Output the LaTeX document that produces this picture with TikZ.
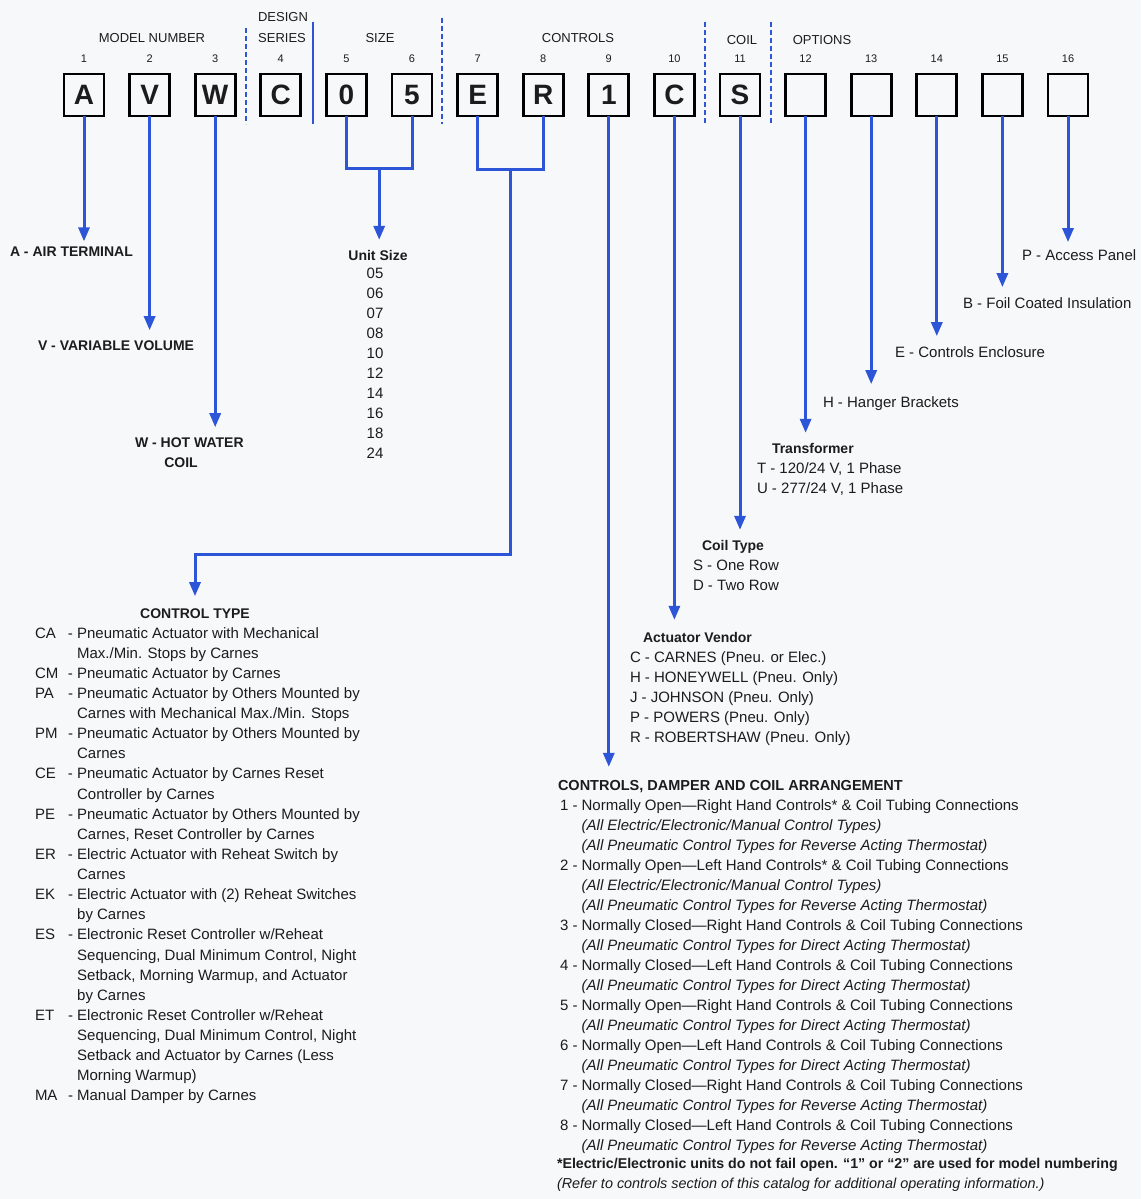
\documentclass[tikz,border=0pt]{standalone}
\usepackage{fontspec}
\setmainfont{Liberation Sans}
\usetikzlibrary{arrows.meta,calc}
\definecolor{lineblue}{RGB}{45,85,215}
\definecolor{ink}{RGB}{28,28,30}
\definecolor{paper}{RGB}{247,248,250}
\newcommand\rfnt{\fontsize{15}{20}\selectfont}
\newcommand\bfnt{\fontsize{14}{16}\selectfont\bfseries}
\begin{document}
\begin{tikzpicture}[x=1pt,y=-1pt,
  every node/.style={inner sep=0pt, outer sep=0pt, text=ink},
  codebox/.style={draw=black, line width=2.8pt, minimum width=40pt, minimum height=42pt,
    font=\fontsize{28}{30}\selectfont\bfseries},
  hdr/.style={font=\fontsize{13}{14}\selectfont, anchor=base},
  num/.style={font=\fontsize{11}{12}\selectfont, anchor=base},
  bhead/.style={font=\bfnt, anchor=base west},
  rlbl/.style={font=\rfnt, anchor=base west},
  conn/.style={draw=lineblue, line width=3pt},
  arr/.style={conn, -{Triangle[width=11pt,length=14pt]}, shorten >=10pt},
  divider/.style={draw=lineblue, line width=2.5pt, dash pattern=on 5pt off 3pt},
  solidsep/.style={draw=lineblue, line width=2.5pt},
  ]
\fill[paper] (0,0) rectangle (1141,1199);
\useasboundingbox (0,0) rectangle (1141,1199);

% code boxes and position numbers
\foreach \i/\ch in {1/A,2/V,3/W,4/C,5/0,6/5,7/E,8/R,9/1,10/C,11/S} {
  \node[codebox] (b\i) at ({84+65.6*(\i-1)},95) {\ch};
}
\foreach \i in {12,...,16} {
  \node[codebox] (b\i) at ({84+65.6*(\i-1)},95) {};
}
\foreach \i in {1,...,16} {
  \node[num] (n\i) at ({84+65.6*(\i-1)},63) {\i};
}

% group headings
\node[hdr] (hModel) at (152,43) {MODEL NUMBER};
\node[hdr] (hDesign) at (283,22) {DESIGN};
\node[hdr] (hSeries) at (282,43) {SERIES};
\node[hdr] (hSize) at (380,43) {SIZE};
\node[hdr] (hControls) at (578,43) {CONTROLS};
\node[hdr] (hCoil) at (742,45) {COIL};
\node[hdr] (hOptions) at (822,45) {OPTIONS};

% group dividers
\draw[divider] (246,28) -- (246,124);
\draw[solidsep] (313,22) -- (313,124);
\draw[divider] (442,18) -- (442,124);
\draw[divider] (705,22) -- (705,124);
\draw[divider] (771,22) -- (771,124);

% labels: model number
\node[bhead] (lA) at (10,256) {A - AIR TERMINAL};
\node[bhead] (lV) at (38,350) {V - VARIABLE VOLUME};
\node[bhead] (lW) at (135,447) {W - HOT WATER};
\node[bhead, anchor=base] (lW2) at (181,467) {COIL};
\draw[arr, shorten >=5pt] (b1.south) -- (b1.south |- lA.north);
\draw[arr] (b2.south) -- (b2.south |- lV.north);
\draw[arr] (b3.south) -- (b3.south |- lW.north);

% size
\draw[conn] (b5.south) -- ++(0,52) -| (b6.south);
\coordinate (m56) at ($(b5.south)!0.5!(b6.south)+(0,52)$);
\node[bhead, anchor=base] (lUnit) at (378,260) {Unit Size};
\node[font=\rfnt, anchor=base] (lSizes) at (375,278)
  {\begin{tabular}[t]{@{}c@{}}05\\06\\07\\08\\10\\12\\14\\16\\18\\24\end{tabular}};
\draw[arr] (m56) -- (m56 |- lUnit.north);

% control type
\draw[conn] (b7.south) -- ++(0,53) -| (b8.south);
\coordinate (m78) at ($(b7.south)!0.5!(b8.south)+(0,53)$);
\coordinate (ctlvl) at (0,554);
\node[bhead, anchor=base] (lCT) at (195,618) {CONTROL TYPE};
\draw[arr, shorten >=12pt] (m78) -- (m78 |- ctlvl) -| (lCT.north);
\node[font=\fontsize{15}{20.13}\selectfont, anchor=base west] (lCTlist) at (35,638)
  {\begin{tabular}[t]{@{}p{33pt}@{}l@{}}
   CA & - Pneumatic Actuator with Mechanical\\
      & \hphantom{- }Max./Min. Stops by Carnes\\
   CM & - Pneumatic Actuator by Carnes\\
   PA & - Pneumatic Actuator by Others Mounted by\\
      & \hphantom{- }Carnes with Mechanical Max./Min. Stops\\
   PM & - Pneumatic Actuator by Others Mounted by\\
      & \hphantom{- }Carnes\\
   CE & - Pneumatic Actuator by Carnes Reset\\
      & \hphantom{- }Controller by Carnes\\
   PE & - Pneumatic Actuator by Others Mounted by\\
      & \hphantom{- }Carnes, Reset Controller by Carnes\\
   ER & - Electric Actuator with Reheat Switch by\\
      & \hphantom{- }Carnes\\
   EK & - Electric Actuator with (2) Reheat Switches\\
      & \hphantom{- }by Carnes\\
   ES & - Electronic Reset Controller w/Reheat\\
      & \hphantom{- }Sequencing, Dual Minimum Control, Night\\
      & \hphantom{- }Setback, Morning Warmup, and Actuator\\
      & \hphantom{- }by Carnes\\
   ET & - Electronic Reset Controller w/Reheat\\
      & \hphantom{- }Sequencing, Dual Minimum Control, Night\\
      & \hphantom{- }Setback and Actuator by Carnes (Less\\
      & \hphantom{- }Morning Warmup)\\
   MA & - Manual Damper by Carnes
   \end{tabular}};

% controls, damper and coil arrangement
\node[font=\fontsize{14.5}{16}\selectfont\bfseries, anchor=base west] (lCDA) at (558,790)
  {CONTROLS, DAMPER AND COIL ARRANGEMENT};
\draw[arr, shorten >=13pt] (b9.south) -- (b9.south |- lCDA.north);
\node[font=\rfnt, anchor=base west] (lCDAlist) at (560,810)
  {\begin{tabular}[t]{@{}l@{}}
   1 - Normally Open---Right Hand Controls* \& Coil Tubing Connections\\
   \hphantom{1 - }\itshape(All Electric/Electronic/Manual Control Types)\\
   \hphantom{1 - }\itshape(All Pneumatic Control Types for Reverse Acting Thermostat)\\
   2 - Normally Open---Left Hand Controls* \& Coil Tubing Connections\\
   \hphantom{1 - }\itshape(All Electric/Electronic/Manual Control Types)\\
   \hphantom{1 - }\itshape(All Pneumatic Control Types for Reverse Acting Thermostat)\\
   3 - Normally Closed---Right Hand Controls \& Coil Tubing Connections\\
   \hphantom{1 - }\itshape(All Pneumatic Control Types for Direct Acting Thermostat)\\
   4 - Normally Closed---Left Hand Controls \& Coil Tubing Connections\\
   \hphantom{1 - }\itshape(All Pneumatic Control Types for Direct Acting Thermostat)\\
   5 - Normally Open---Right Hand Controls \& Coil Tubing Connections\\
   \hphantom{1 - }\itshape(All Pneumatic Control Types for Direct Acting Thermostat)\\
   6 - Normally Open---Left Hand Controls \& Coil Tubing Connections\\
   \hphantom{1 - }\itshape(All Pneumatic Control Types for Direct Acting Thermostat)\\
   7 - Normally Closed---Right Hand Controls \& Coil Tubing Connections\\
   \hphantom{1 - }\itshape(All Pneumatic Control Types for Reverse Acting Thermostat)\\
   8 - Normally Closed---Left Hand Controls \& Coil Tubing Connections\\
   \hphantom{1 - }\itshape(All Pneumatic Control Types for Reverse Acting Thermostat)
   \end{tabular}};
\node[font=\fontsize{14.2}{16}\selectfont\bfseries, anchor=base west] (lNote) at (557,1168)
  {*Electric/Electronic units do not fail open. ``1'' or ``2'' are used for model numbering};
\node[font=\fontsize{14.4}{16}\selectfont\itshape, anchor=base west] (lRefer) at (557,1188)
  {(Refer to controls section of this catalog for additional operating information.)};

% actuator vendor
\node[bhead] (lAV) at (643,642) {Actuator Vendor};
\draw[arr, shorten >=12pt] (b10.south) -- (b10.south |- lAV.north);
\node[rlbl] (lAVlist) at (630,662)
  {\begin{tabular}[t]{@{}l@{}}
   C - CARNES (Pneu. or Elec.)\\
   H - HONEYWELL (Pneu. Only)\\
   J - JOHNSON (Pneu. Only)\\
   P - POWERS (Pneu. Only)\\
   R - ROBERTSHAW (Pneu. Only)
   \end{tabular}};

% coil type
\node[bhead] (lCoil) at (702,550) {Coil Type};
\draw[arr] (b11.south) -- (b11.south |- lCoil.north);
\node[rlbl] (lCoillist) at (693,570)
  {\begin{tabular}[t]{@{}l@{}}S - One Row\\D - Two Row\end{tabular}};

% options
\node[bhead] (lTr) at (772,453) {Transformer};
\draw[arr] (b12.south) -- (b12.south |- lTr.north);
\node[rlbl] (lTrlist) at (757,473)
  {\begin{tabular}[t]{@{}l@{}}T - 120/24 V, 1 Phase\\U - 277/24 V, 1 Phase\end{tabular}};
\node[rlbl] (lH) at (823,407) {H - Hanger Brackets};
\draw[arr, shorten >=12pt] (b13.south) -- (b13.south |- lH.north);
\node[rlbl] (lE) at (895,357) {E - Controls Enclosure};
\draw[arr] (b14.south) -- (b14.south |- lE.north);
\node[rlbl] (lB) at (963,308) {B - Foil Coated Insulation};
\draw[arr] (b15.south) -- (b15.south |- lB.north);
\node[rlbl] (lP) at (1022,260) {P - Access Panel};
\draw[arr, shorten >=7pt] (b16.south) -- (b16.south |- lP.north);
\end{tikzpicture}
\end{document}
